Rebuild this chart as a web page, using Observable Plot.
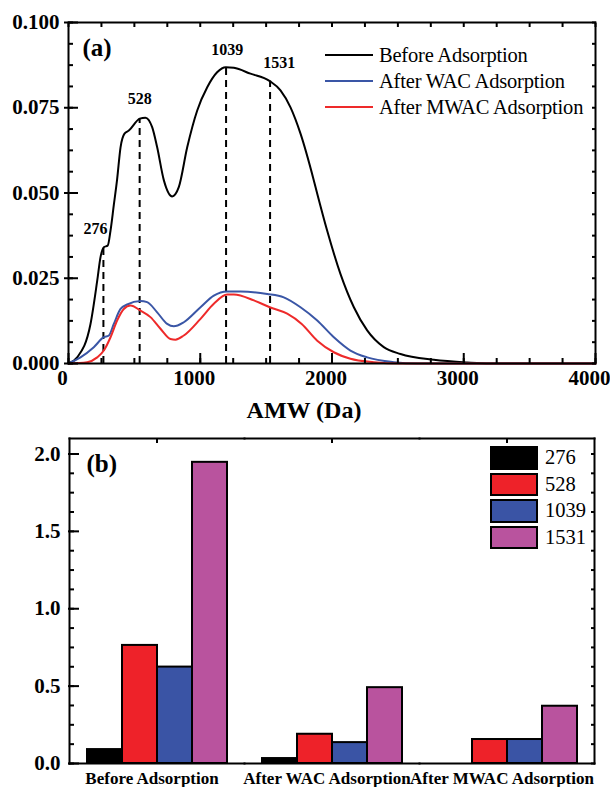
<!DOCTYPE html>
<html>
<head>
<meta charset="utf-8">
<script src="https://cdn.jsdelivr.net/npm/d3@7"></script>
<script src="https://cdn.jsdelivr.net/npm/@observablehq/plot@0.6"></script>
<style>
  body { margin: 0; background: #fff; }
  #wrap { position: relative; width: 610px; height: 787px; overflow: hidden; background: #fff;
          font-family: "Liberation Serif", "Times New Roman", serif; color: #000; }
  #wrap svg { position: absolute; left: 0; overflow: hidden; }
  .legA { position: absolute; left: 325px; }
  .legA .row { height: 26px; display: flex; align-items: center; }
  .legA .ln { width: 48px; height: 2px; margin-right: 6px; }
  .legA .tx { font-size: 20.5px; white-space: nowrap; letter-spacing: -0.2px; }
  .legB { position: absolute; left: 490px; top: 446px; }
  .legB .row { height: 26.6px; display: flex; align-items: flex-start; }
  .legB .sw { width: 48px; height: 23.5px; box-sizing: border-box; border: 2px solid #000; margin-right: 7px; }
  .legB .tx { font-size: 20.5px; line-height: 23.5px; }
</style>
</head>
<body>
<div id="wrap"></div>
<script>
// ---------- Panel (a) data ----------
const seriesA = ["Before Adsorption", "After WAC Adsorption", "After MWAC Adsorption"];
const colorsA = ["#000000", "#3a56a6", "#ee2a2a"];

const beforeAMW = [0, 66, 167, 218, 243, 268, 298, 319, 344, 369, 395, 425, 458, 541, 584, 635, 673, 724, 787, 837, 901, 977, 1053, 1128, 1194, 1255, 1381, 1528, 1609, 1685, 1761, 1862, 1888, 1963, 2064, 2166, 2267, 2393, 2520, 2773, 3026, 3200, 4000];
const beforeVal = [0, 0.0018, 0.0116, 0.0243, 0.0312, 0.0341, 0.0346, 0.0390, 0.0465, 0.0540, 0.0634, 0.0674, 0.0683, 0.0718, 0.0721, 0.0693, 0.0634, 0.0537, 0.0490, 0.0517, 0.0634, 0.0742, 0.0810, 0.0854, 0.0869, 0.0867, 0.0850, 0.0828, 0.0801, 0.0751, 0.0674, 0.0537, 0.0498, 0.0390, 0.0263, 0.0165, 0.0097, 0.0048, 0.0028, 0.0011, 0.0003, 0, 0];

const wacAMW = [0, 91, 192, 268, 306, 344, 395, 446, 546, 597, 673, 749, 799, 875, 1002, 1103, 1204, 1306, 1508, 1634, 1761, 1888, 2014, 2140, 2267, 2469, 2650, 4000];
const wacVal = [0, 0.0018, 0.0048, 0.0077, 0.0082, 0.0116, 0.0160, 0.0173, 0.0183, 0.0180, 0.0150, 0.0116, 0.0109, 0.0121, 0.0165, 0.0199, 0.0211, 0.0211, 0.0204, 0.0194, 0.0165, 0.0126, 0.0077, 0.0038, 0.0018, 0.0004, 0, 0];

const mwacAMW = [0, 142, 218, 268, 319, 369, 420, 471, 546, 622, 698, 774, 812, 875, 1002, 1103, 1204, 1255, 1407, 1528, 1660, 1770, 1888, 2014, 2140, 2317, 2520, 4000];
const mwacVal = [0, 0.0004, 0.0018, 0.0038, 0.0077, 0.0126, 0.0160, 0.0170, 0.0155, 0.0136, 0.0102, 0.0072, 0.0070, 0.0082, 0.0131, 0.0175, 0.0202, 0.0202, 0.0185, 0.0165, 0.0146, 0.0116, 0.0067, 0.0033, 0.0014, 0.0004, 0, 0];

const peakLabels = ["276", "528", "1039", "1531"];
const peakAMW = [265, 540, 1196, 1530];
const peakVal = [0.0341, 0.0718, 0.0869, 0.0828];
const peakLabelAMW = [205, 540, 1205, 1600];
const peakLabelVal = [0.0395, 0.0777, 0.0921, 0.0883];

const amwTicks = [0, 1000, 2000, 3000, 4000];
const amwMinor = [0, 250, 500, 750, 1000, 1250, 1500, 1750, 2000, 2250, 2500, 2750, 3000, 3250, 3500, 3750, 4000];
const valTicks = [0, 0.025, 0.05, 0.075, 0.1];
const valMinor = [0, 0.00625, 0.0125, 0.01875, 0.025, 0.03125, 0.0375, 0.04375, 0.05, 0.05625, 0.0625, 0.06875, 0.075, 0.08125, 0.0875, 0.09375, 0.1];

// ---------- Panel (b) data ----------
const groupsB = ["Before Adsorption", "After WAC Adsorption", "After MWAC Adsorption"];
const seriesB = ["276", "528", "1039", "1531"];
const colorsB = ["#000000", "#ee2229", "#3a54a5", "#b9539e"];
const values276 = [0.090, 0.032, 0];
const values528 = [0.763, 0.189, 0.155];
const values1039 = [0.623, 0.135, 0.155];
const values1531 = [1.946, 0.490, 0.370];
const bTicks = [0, 0.5, 1.0, 1.5, 2.0];
const bMinor = [0, 0.125, 0.25, 0.375, 0.5, 0.625, 0.75, 0.875, 1.0, 1.125, 1.25, 1.375, 1.5, 1.625, 1.75, 1.875, 2.0];

// ---------- tables ----------
const linesA = [
  ...beforeAMW.map((x, i) => ({series: seriesA[0], amw: x, val: beforeVal[i]})),
  ...wacAMW.map((x, i) => ({series: seriesA[1], amw: x, val: wacVal[i]})),
  ...mwacAMW.map((x, i) => ({series: seriesA[2], amw: x, val: mwacVal[i]}))
];
const peaks = peakLabels.map((l, i) => ({label: l, amw: peakAMW[i], val: peakVal[i], lx: peakLabelAMW[i], ly: peakLabelVal[i]}));

const valsB = [values276, values528, values1039, values1531];
const barsB = [];
groupsB.forEach((g, gi) => seriesB.forEach((s, si) => barsB.push({group: g, series: s, value: valsB[si][gi]})));

const FONT = "Liberation Serif, Times New Roman, serif";
const wrap = document.getElementById("wrap");

// ---------- Panel (a) ----------
const plotA = Plot.plot({
  width: 610, height: 410,
  marginTop: 7, marginBottom: 62, marginLeft: 68, marginRight: 15,
  style: {fontFamily: FONT, background: "white", color: "black", overflow: "hidden"},
  x: {domain: [0, 4000]},
  y: {domain: [0, 0.1]},
  color: {domain: seriesA, range: colorsA},
  marks: [
    Plot.ruleX(peaks, {x: "amw", y1: 0, y2: "val", stroke: "black", strokeWidth: 2, strokeDasharray: "7,5"}),
    Plot.line(linesA, {x: "amw", y: "val", z: "series", stroke: "series", strokeWidth: 2, curve: "monotone-x"}),
    Plot.text(peaks, {x: "lx", y: "ly", text: "label", fontSize: 16, fontWeight: "bold", fill: "black"}),
    Plot.text(["(a)"], {text: d => d, frameAnchor: "top-left", textAnchor: "start", lineAnchor: "middle", dx: 14, dy: 25, fontSize: 25, fontWeight: "bold", fill: "black"}),
    Plot.text(["AMW (Da)"], {text: d => d, frameAnchor: "bottom", lineAnchor: "middle", dx: -28, dy: 47, fontSize: 24, fontWeight: "bold", fill: "black"}),
    // axes
    Plot.axisY(valTicks, {anchor: "left", tickSize: 0, tickPadding: 9, tickFormat: d3.format(".3f"), fontSize: 21, fontWeight: "bold", label: null, fill: "black"}),
    Plot.axisY(valTicks, {anchor: "left", tickSize: 14, dx: 10, fill: "none", label: null, stroke: "black", strokeWidth: 2}),
    Plot.axisY(valMinor, {anchor: "left", tickSize: 5, dx: 5, fill: "none", label: null, stroke: "black", strokeWidth: 2}),
    Plot.axisY(valMinor, {anchor: "right", tickSize: 4, dx: -4, fill: "none", label: null, stroke: "black", strokeWidth: 2}),
    Plot.axisX(amwTicks, {anchor: "bottom", tickSize: 0, tickPadding: 7, dx: -6, tickFormat: d3.format("d"), fontSize: 21, fontWeight: "bold", label: null, fill: "black"}),
    Plot.axisX(amwTicks, {anchor: "bottom", tickSize: 10, dy: -10, fill: "none", label: null, stroke: "black", strokeWidth: 2}),
    Plot.axisX(amwMinor, {anchor: "bottom", tickSize: 5, dy: -5, fill: "none", label: null, stroke: "black", strokeWidth: 2}),
    Plot.axisX(amwMinor, {anchor: "top", tickSize: 4, dy: 4, fill: "none", label: null, stroke: "black", strokeWidth: 2}),
    Plot.frame({stroke: "black", strokeWidth: 2})
  ]
});
plotA.style.top = "15px";
wrap.appendChild(plotA);

// legend (a)
const legA = document.createElement("div");
legA.className = "legA";
legA.style.top = "42px";
seriesA.forEach((s, i) => {
  const r = document.createElement("div"); r.className = "row";
  r.innerHTML = `<div class="ln" style="background:${colorsA[i]}"></div><div class="tx">${s}</div>`;
  legA.appendChild(r);
});
wrap.appendChild(legA);

// ---------- Panel (b) ----------
const plotB = Plot.plot({
  width: 610, height: 362,
  marginTop: 13, marginBottom: 24, marginLeft: 68, marginRight: 15,
  style: {fontFamily: FONT, background: "white", color: "black", overflow: "hidden"},
  fx: {domain: groupsB, padding: 0},
  x: {domain: seriesB, paddingInner: 0, paddingOuter: 0.5, axis: null},
  y: {domain: [0, 2.1]},
  color: {domain: seriesB, range: colorsB},
  marks: [
    Plot.barY(barsB, {fx: "group", x: "series", y: "value", fill: "series", stroke: "black", strokeWidth: 2}),
    Plot.text(["(b)"], {text: d => d, frameAnchor: "top-left", textAnchor: "start", lineAnchor: "middle", dx: 17, dy: 25, fontSize: 25, fontWeight: "bold", fill: "black", facetAnchor: "left"}),
    Plot.axisFx({anchor: "bottom", tickSize: 0, tickPadding: 8, dx: -5, fontSize: 17, fontWeight: "bold", label: null, fill: "black"}),
    Plot.axisFx({anchor: "top", tickSize: 4, dy: 4, fill: "none", label: null, stroke: "black", strokeWidth: 2}),
    Plot.axisY(bTicks, {anchor: "left", tickSize: 0, tickPadding: 9, tickFormat: d3.format(".1f"), fontSize: 21, fontWeight: "bold", label: null, fill: "black"}),
    Plot.axisY(bTicks, {anchor: "left", tickSize: 11, dx: 10, fill: "none", label: null, stroke: "black", strokeWidth: 2}),
    Plot.axisY(bMinor, {anchor: "left", tickSize: 5, dx: 5, fill: "none", label: null, stroke: "black", strokeWidth: 2}),
    Plot.axisY(bMinor, {anchor: "right", tickSize: 4, dx: -4, fill: "none", label: null, stroke: "black", strokeWidth: 2}),
    Plot.frame({anchor: "top", stroke: "black", strokeWidth: 2}),
    Plot.frame({anchor: "bottom", stroke: "black", strokeWidth: 2}),
    Plot.frame({anchor: "left", facetAnchor: "left", stroke: "black", strokeWidth: 2}),
    Plot.frame({anchor: "right", facetAnchor: "right", stroke: "black", strokeWidth: 2})
  ]
});
plotB.style.top = "425px";
wrap.appendChild(plotB);

// legend (b)
const legB = document.createElement("div");
legB.className = "legB";
seriesB.forEach((s, i) => {
  const r = document.createElement("div"); r.className = "row";
  r.innerHTML = `<div class="sw" style="background:${colorsB[i]}"></div><div class="tx">${s}</div>`;
  legB.appendChild(r);
});
wrap.appendChild(legB);
</script>
</body>
</html>
